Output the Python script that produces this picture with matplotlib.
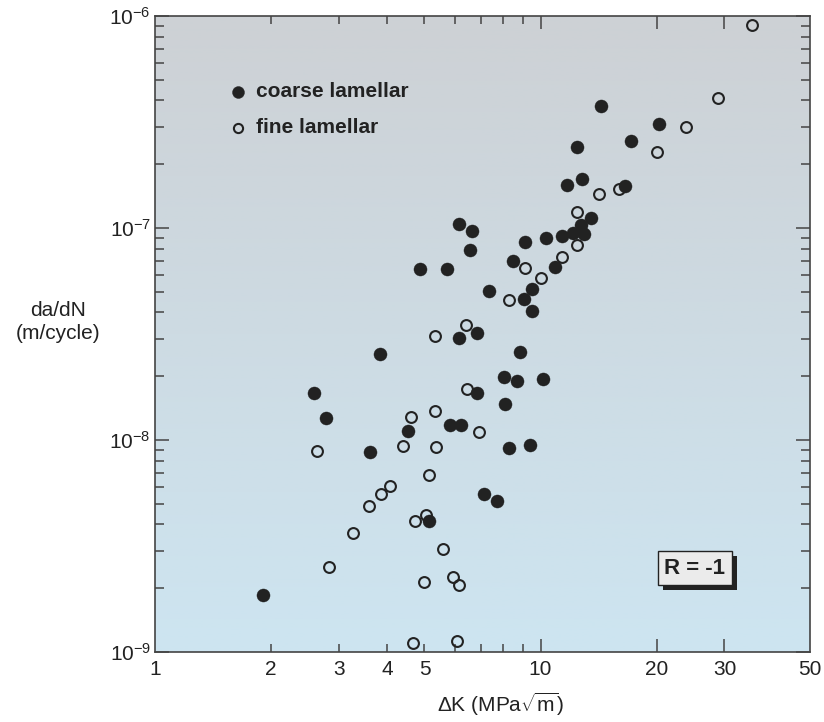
import numpy as np
import matplotlib
matplotlib.use("Agg")
import matplotlib.pyplot as plt
from matplotlib import patheffects
from matplotlib.ticker import FixedLocator, NullFormatter

plt.rcParams['font.family'] = ['Liberation Sans', 'DejaVu Sans']
plt.rcParams['mathtext.fontset'] = 'custom'
plt.rcParams['mathtext.rm'] = 'Liberation Sans'
plt.rcParams['mathtext.it'] = 'Liberation Sans:italic'
plt.rcParams['mathtext.default'] = 'regular'

# Stress intensity range (MPa sqrt m) and crack growth rate (m/cycle)
coarse_dk = [14.35, 20.3, 17.13, 12.43, 11.73, 12.83, 16.6, 13.54, 12.70, 12.16,
             12.96, 11.34, 10.36, 9.14, 6.16, 6.65, 6.58, 8.49, 10.89, 9.49,
             7.34, 9.05, 9.53, 6.86, 8.84, 8.03, 8.70, 10.16, 8.08, 6.86,
             4.88, 5.72, 6.16, 3.84, 2.58, 2.78, 4.52, 5.84, 6.22, 3.62,
             5.15, 7.15, 7.69, 8.26, 9.38, 1.91]
coarse_rate = [3.76e-7, 3.10e-7, 2.58e-7, 2.42e-7, 1.595e-7, 1.697e-7, 1.583e-7, 1.118e-7, 1.033e-7, 9.5e-8,
               9.37e-8, 9.14e-8, 8.97e-8, 8.59e-8, 1.044e-7, 9.68e-8, 7.87e-8, 7.01e-8, 6.57e-8, 5.16e-8,
               5.06e-8, 4.61e-8, 4.06e-8, 3.19e-8, 2.59e-8, 1.99e-8, 1.905e-8, 1.946e-8, 1.483e-8, 1.672e-8,
               6.43e-8, 6.43e-8, 3.04e-8, 2.545e-8, 1.661e-8, 1.27e-8, 1.106e-8, 1.177e-8, 1.177e-8, 8.81e-9,
               4.14e-9, 5.54e-9, 5.16e-9, 9.14e-9, 9.50e-9, 1.86e-9]

fine_dk = [35.3, 28.9, 23.9, 20.1, 14.15, 15.97, 12.43, 12.43, 9.14, 11.39,
           10.04, 8.27, 6.42, 5.34, 6.45, 5.31, 4.62, 6.91, 2.63, 4.39,
           5.37, 5.15, 4.08, 3.86, 3.60, 5.04, 4.72, 3.27, 5.57, 2.82,
           4.98, 5.92, 6.13, 4.68, 6.09]
fine_rate = [9.07e-7, 4.12e-7, 2.99e-7, 2.28e-7, 1.451e-7, 1.532e-7, 1.186e-7, 8.34e-8, 6.5e-8, 7.27e-8,
             5.83e-8, 4.56e-8, 3.47e-8, 3.09e-8, 1.735e-8, 1.37e-8, 1.28e-8, 1.095e-8, 8.87e-9, 9.34e-9,
             9.24e-9, 6.86e-9, 6.07e-9, 5.54e-9, 4.88e-9, 4.43e-9, 4.14e-9, 3.63e-9, 3.05e-9, 2.53e-9,
             2.15e-9, 2.25e-9, 2.07e-9, 1.10e-9, 1.13e-9]

x_major = [1, 2, 3, 4, 5, 10, 20, 30, 50]
x_major_labels = ['1', '2', '3', '4', '5', '10', '20', '30', '50']
y_major = [1e-9, 1e-8, 1e-7, 1e-6]
y_major_labels = ['$10^{-9}$', '$10^{-8}$', '$10^{-7}$', '$10^{-6}$']

series_labels = ['coarse lamellar', 'fine lamellar']
ratio_text = 'R = -1'

ink = '#222222'
spine_col = '#444444'

fig = plt.figure(figsize=(8.24, 7.22), dpi=100)
rect = [155 / 824, 1 - 652 / 722, 655 / 824, 636 / 722]

# Vertical gradient backdrop: grey at the top fading to pale blue
bg = fig.add_axes(rect, zorder=0)
top = np.array([205, 209, 213]) / 255
bottom = np.array([205, 229, 241]) / 255
t = np.linspace(0, 1, 256)[:, None]
grad = (top[None, :] * (1 - t) + bottom[None, :] * t)[:, None, :]
bg.imshow(grad, aspect='auto', extent=[0, 1, 0, 1], interpolation='bilinear')
bg.axis('off')

ax = fig.add_axes(rect, zorder=1)
ax.patch.set_alpha(0)
ax.set_xscale('log')
ax.set_yscale('log')
ax.set_xlim(1, 50)
ax.set_ylim(1e-9, 1e-6)

ax.plot(coarse_dk, coarse_rate, linestyle='none', marker='o', ms=9.4,
        mfc=ink, mec=ink, mew=0.3, zorder=3)
ax.plot(fine_dk, fine_rate, linestyle='none', marker='o', ms=7.8,
        mfc='none', mec=ink, mew=1.5, zorder=3)

# Ticks
ax.xaxis.set_major_locator(FixedLocator([10, 20, 30]))
ax.xaxis.set_minor_locator(FixedLocator([2, 3, 4, 5, 6, 7, 8, 9]))
ax.xaxis.set_major_formatter(NullFormatter())
ax.xaxis.set_minor_formatter(NullFormatter())
for v, s in zip(x_major, x_major_labels):
    ax.text(v, -0.012, s, transform=ax.get_xaxis_transform(), ha='center',
            va='top', fontsize=15, color=ink)

ax.yaxis.set_major_locator(FixedLocator(y_major))
ax.yaxis.set_minor_locator(FixedLocator(
    [m * d for d in (1e-9, 1e-8, 1e-7) for m in range(2, 10)]))
ax.set_yticklabels(y_major_labels)
ax.yaxis.set_minor_formatter(NullFormatter())

ax.tick_params(axis='both', which='both', direction='in', top=True, right=True,
               color=spine_col, width=1.1)
ax.tick_params(axis='x', which='major', length=9.5)
ax.tick_params(axis='x', which='minor', length=6)
ax.tick_params(axis='y', which='major', length=10, labelsize=15, pad=3,
               labelcolor=ink)
ax.tick_params(axis='y', which='minor', length=6.5)

for sp in ax.spines.values():
    sp.set_color(spine_col)
    sp.set_linewidth(1.2)

ax.set_xlabel(r'$\Delta$K (MPa$\sqrt{m}$)', fontsize=15, color=ink,
              va='center')
ax.xaxis.set_label_coords(0.528, -0.083)
ax.set_ylabel('da/dN\n(m/cycle)', fontsize=15, color=ink, rotation=0,
              ha='center', va='center', linespacing=1.25)
ax.yaxis.set_label_coords(-0.148, 0.519)

# Legend entries
ax.plot([0.1263], [0.881], transform=ax.transAxes, marker='o', ms=8.6,
        mfc=ink, mec=ink, mew=0.3, linestyle='none', clip_on=False)
ax.plot([0.1263], [0.824], transform=ax.transAxes, marker='o', ms=6.6,
        mfc='none', mec=ink, mew=1.5, linestyle='none', clip_on=False)
ax.text(0.154, 0.881, series_labels[0], transform=ax.transAxes, fontsize=15,
        fontweight='bold', color=ink, va='center', ha='left')
ax.text(0.154, 0.824, series_labels[1], transform=ax.transAxes, fontsize=15,
        fontweight='bold', color=ink, va='center', ha='left')

# Load ratio box with drop shadow
rt = ax.text(0.824, 0.132, ratio_text, transform=ax.transAxes, fontsize=16,
             fontweight='bold', color=ink, ha='center', va='center',
             bbox=dict(boxstyle='square,pad=0.3', fc='#ebebeb', ec=ink, lw=1.0))
rt.get_bbox_patch().set_path_effects([
    patheffects.SimplePatchShadow(offset=(3.8, -3.8), shadow_rgbFace=ink, alpha=1.0),
    patheffects.Normal()])

fig.savefig('out.png', dpi=100)
